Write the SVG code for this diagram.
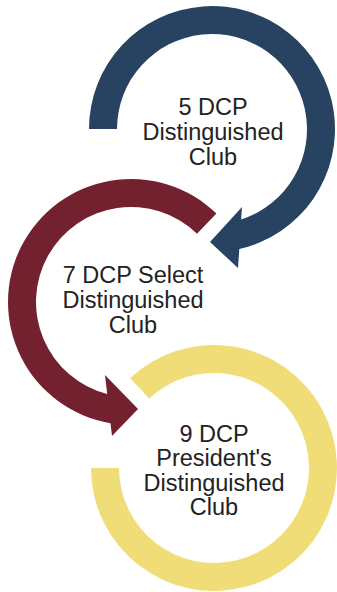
<svg xmlns="http://www.w3.org/2000/svg" width="337" height="592" viewBox="0 0 337 592">
  <style>
    .lbl { font-family: "Liberation Sans", Arial, sans-serif; font-size: 23.5px; fill: #222222; text-anchor: middle; }
    .blue { fill: #284262; }
    .maroon { fill: #74212f; }
    .yellow { fill: #f1dd78; }
  </style>
  <rect width="337" height="592" fill="#ffffff"/>
  <g id="connectors">
    <path id="arrow-blue" class="blue" d="M 89 129 A 123 123 0 1 1 239.3 249 L 238 268 L 210 242 L 242 207 L 241.1 219.5 A 95 95 0 1 0 117 129 Z"/>
    <path id="arrow-maroon" class="maroon" d="M 216.4 213.5 A 123 123 0 1 0 110.5 423.3 L 112 436 L 138 409 L 105 375 L 107.2 394 A 95 95 0 1 1 197 233.7 Z"/>
    <path id="ring-yellow" class="yellow" d="M 130.1 378 A 123 123 0 1 1 91 468 L 119 468 A 95 95 0 1 0 149.2 398.5 Z"/>
  </g>
  <g id="node-5dcp">
    <text class="lbl" x="213" y="115">5 DCP</text>
    <text class="lbl" x="213" y="140">Distinguished</text>
    <text class="lbl" x="213" y="165">Club</text>
  </g>
  <g id="node-7dcp">
    <text class="lbl" x="133" y="283">7 DCP Select</text>
    <text class="lbl" x="133" y="308">Distinguished</text>
    <text class="lbl" x="133" y="333">Club</text>
  </g>
  <g id="node-9dcp">
    <text class="lbl" x="214" y="441.5">9 DCP</text>
    <text class="lbl" x="214" y="466">President's</text>
    <text class="lbl" x="214" y="490.5">Distinguished</text>
    <text class="lbl" x="214" y="515">Club</text>
  </g>
</svg>
